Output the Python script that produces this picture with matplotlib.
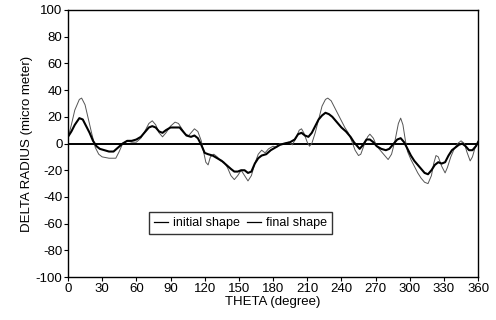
import matplotlib
matplotlib.use("Agg")
import matplotlib.pyplot as plt

plt.rcParams["font.family"] = ["Liberation Sans", "DejaVu Sans"]
plt.rcParams["axes.unicode_minus"] = False

# (theta in degrees, delta radius in micro meter)
theta_initial = [0, 3, 6, 10, 12, 15, 18, 21, 24, 27, 30, 36, 42, 45, 48, 52, 56, 60,
                 64, 68, 71, 74, 77, 80, 83, 86, 90, 94, 97, 100, 103, 106, 109, 111,
                 114, 117, 119, 121, 123, 125, 128, 131, 134, 137, 140, 143, 146, 149,
                 152, 155, 158, 161, 164, 167, 170, 173, 176, 180, 183, 186, 190, 194,
                 197, 200, 203, 205, 207, 210, 212, 214, 217, 220, 223, 226, 228, 231,
                 234, 237, 240, 243, 246, 249, 252, 255, 257, 260, 263, 265, 268, 271,
                 274, 277, 281, 284, 287, 290, 292, 294, 296, 298, 301, 304, 307, 310,
                 313, 316, 319, 321, 323, 325, 328, 331, 333, 336, 339, 342, 345, 348,
                 350, 353, 355, 357, 360]
radius_initial = [4, 14, 25, 33, 34, 29, 18, 7, -3, -8, -10, -11, -11, -6, 0, 2, 1, 1,
                  4, 10, 15, 17, 14, 8, 5, 8, 13, 16, 15, 11, 7, 6, 9, 11,
                  9, 2, -6, -14, -16, -10, -8, -10, -13, -14, -18, -24, -27, -24,
                  -20, -24, -28, -24, -15, -8, -5, -7, -4, -2, -3, 0, 0, 1,
                  -1, 4, 10, 11, 8, 1, -2, 0, 8, 18, 28, 33, 34, 32,
                  27, 22, 17, 12, 8, 2, -5, -9, -8, -1, 5, 7, 4, -2,
                  -5, -8, -12, -8, 2, 15, 19, 14, 3, -6, -12, -17, -22, -26,
                  -29, -30, -24, -15, -9, -10, -17, -22, -18, -10, -4, 0, 2, 0,
                  -6, -13, -10, -4, 2]

theta_final = [0, 3, 6, 10, 13, 16, 19, 22, 25, 28, 32, 36, 40, 44, 48, 52, 56, 60,
               64, 68, 71, 74, 77, 80, 83, 86, 90, 94, 98, 101, 104, 108, 111, 114,
               117, 120, 123, 127, 131, 135, 139, 143, 146, 149, 152, 155, 158, 161,
               164, 167, 170, 174, 178, 182, 186, 190, 195, 199, 202, 205, 208, 211,
               214, 217, 220, 223, 226, 229, 232, 236, 240, 244, 248, 251, 254, 256,
               259, 262, 265, 268, 271, 275, 279, 282, 286, 289, 292, 295, 298, 301,
               304, 307, 310, 313, 316, 319, 322, 325, 328, 331, 334, 337, 340, 343,
               346, 349, 352, 355, 358, 360]
radius_final = [5, 9, 14, 19, 18, 13, 8, 2, -2, -4, -5, -6, -6, -3, 0, 2, 2, 3,
                5, 9, 12, 13, 12, 9, 8, 10, 12, 12, 12, 9, 6, 5, 6, 4,
                -1, -7, -8, -9, -11, -13, -16, -19, -21, -21, -20, -20, -22, -21,
                -15, -11, -9, -8, -5, -3, -1, 0, 1, 3, 7, 8, 6, 5,
                8, 13, 18, 21, 23, 22, 20, 16, 12, 9, 5, 1, -2, -4,
                -1, 3, 3, 1, -2, -4, -5, -4, 0, 3, 4, 1, -4, -9,
                -13, -16, -19, -22, -23, -20, -16, -14, -15, -14, -9, -5, -3, -1,
                0, -2, -5, -5, -2, 1]

x_ticks = list(range(0, 361, 30))
y_ticks = list(range(-100, 101, 20))

fig = plt.figure(figsize=(4.96, 3.2), dpi=100)
ax = fig.add_axes([0.137, 0.134, 0.827, 0.835])

ax.axhline(0, color="black", linewidth=1.4, zorder=1)
ax.plot(theta_initial, radius_initial, color="#555555", linewidth=0.7,
        label="initial shape", zorder=2)
ax.plot(theta_final, radius_final, color="black", linewidth=1.5,
        label="final shape", zorder=3)

ax.set_xlim(0, 360)
ax.set_ylim(-100, 100)
ax.set_xticks(x_ticks)
ax.set_yticks(y_ticks)
ax.tick_params(direction="out", length=3, width=0.8, labelsize=9.5, pad=1)
for s in ax.spines.values():
    s.set_linewidth(1.0)

ax.set_xlabel("THETA (degree)", fontsize=9.5, labelpad=1)
ax.set_ylabel("DELTA RADIUS (micro meter)", fontsize=9.5, labelpad=2)

# legend handles in the reference are short thin rules for both series
handles, labels = ax.get_legend_handles_labels()
leg = ax.legend(handles, labels, loc="center", bbox_to_anchor=(0.42, 0.203), ncol=2,
                fontsize=9, frameon=True, fancybox=False, handlelength=1.1,
                handletextpad=0.4, columnspacing=0.6, borderpad=0.4)
leg.get_frame().set_edgecolor("black")
leg.get_frame().set_linewidth(1.0)
for line in leg.get_lines():
    line.set_linewidth(0.9)
    line.set_color("black")

fig.savefig("out.png", dpi=100)
